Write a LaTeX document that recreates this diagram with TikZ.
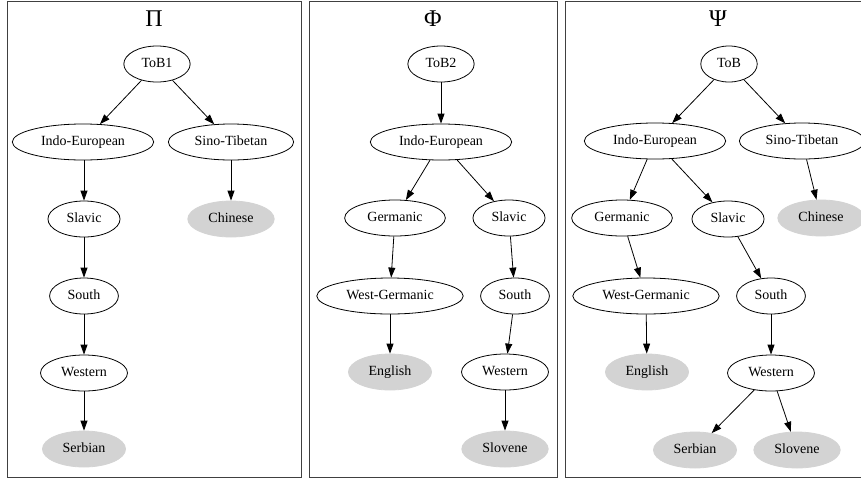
\documentclass[tikz,border=0pt]{standalone}
\usepackage{fontspec}
\setmainfont{Liberation Serif}
\usetikzlibrary{arrows.meta,shapes.geometric}
\definecolor{leafgray}{HTML}{D3D3D3}
\tikzset{
  lang/.style={ellipse, draw, line width=0.8pt, inner xsep=8pt, inner ysep=3pt,
    minimum height=36pt, minimum width=54pt, text height=9.5pt, text depth=3pt,
    font=\fontsize{14}{16}\selectfont},
  leaf/.style={lang, fill=leafgray, draw=leafgray},
  arr/.style={-{Triangle[length=10pt,width=7pt]}, line width=0.8pt},
  panel/.style={draw=black!75, line width=1pt},
  ttl/.style={anchor=base, inner sep=0pt, font=\fontsize{24}{28}\selectfont}
}
\begin{document}
\begin{tikzpicture}[x=1pt, y=-1pt]
    \useasboundingbox (0,0) rectangle (861,480);
    \draw[panel] (7,1) rectangle (301,477);
    \draw[panel] (309,1) rectangle (557,477);
    \draw[panel] (565,1) rectangle (870,477);
    \node[ttl] (t-pi) at (154,26) {Π};
    \node[ttl] (t-phi) at (433,26) {Φ};
    \node[ttl] (t-psi) at (718,26) {Ψ};

    \node[lang] (p-root) at (157,64) {ToB1};
    \node[lang] (p-ie) at (83,142) {Indo-European};
    \node[lang] (p-st) at (231,142) {Sino-Tibetan};
    \node[lang] (p-sl) at (84,219) {Slavic};
    \node[leaf] (p-zh) at (231,219) {Chinese};
    \node[lang] (p-so) at (84,296) {South};
    \node[lang] (p-we) at (84,373) {Western};
    \node[leaf] (p-sr) at (84,449) {Serbian};
    \draw[arr] (p-root) -- (p-ie);
    \draw[arr] (p-root) -- (p-st);
    \draw[arr] (p-ie.south -| p-sl) -- (p-sl);
    \draw[arr] (p-st) -- (p-zh);
    \draw[arr] (p-sl) -- (p-so);
    \draw[arr] (p-so) -- (p-we);
    \draw[arr] (p-we) -- (p-sr);

    \node[lang] (f-root) at (441,64) {ToB2};
    \node[lang] (f-ie) at (441,142) {Indo-European};
    \node[lang] (f-ge) at (395,218) {Germanic};
    \node[lang] (f-sl) at (509,218) {Slavic};
    \node[lang] (f-wg) at (390,296) {West-Germanic};
    \node[lang] (f-so) at (515,296) {South};
    \node[leaf] (f-en) at (390,372) {English};
    \node[lang] (f-we) at (505,372) {Western};
    \node[leaf] (f-sv) at (505,449) {Slovene};
    \draw[arr] (f-root) -- (f-ie);
    \draw[arr] (f-ie) -- (f-ge);
    \draw[arr] (f-ie) -- (f-sl);
    \draw[arr] (f-ge) -- (f-wg);
    \draw[arr] (f-wg) -- (f-en);
    \draw[arr] (f-sl) -- (f-so);
    \draw[arr] (f-so) -- (f-we);
    \draw[arr] (f-we) -- (f-sv);

    \node[lang] (s-root) at (729,64) {ToB};
    \node[lang] (s-ie) at (655,141) {Indo-European};
    \node[lang] (s-st) at (802,141) {Sino-Tibetan};
    \node[lang] (s-ge) at (622,218) {Germanic};
    \node[lang] (s-sl) at (728,219) {Slavic};
    \node[leaf] (s-zh) at (821,218) {Chinese};
    \node[lang] (s-wg) at (646,296) {West-Germanic};
    \node[lang] (s-so) at (771,296) {South};
    \node[leaf] (s-en) at (647,372) {English};
    \node[lang] (s-we) at (771,373) {Western};
    \node[leaf] (s-sr) at (695,450) {Serbian};
    \node[leaf] (s-sv) at (797,450) {Slovene};
    \draw[arr] (s-root) -- (s-ie);
    \draw[arr] (s-root) -- (s-st);
    \draw[arr] (s-ie) -- (s-ge);
    \draw[arr] (s-ie) -- (s-sl);
    \draw[arr] (s-st) -- (s-zh);
    \draw[arr] (s-ge) -- (s-wg);
    \draw[arr] (s-wg) -- (s-en);
    \draw[arr] (s-sl) -- (s-so);
    \draw[arr] (s-so) -- (s-we);
    \draw[arr] (s-we) -- (s-sr);
    \draw[arr] (s-we) -- (s-sv);
\end{tikzpicture}
\end{document}
